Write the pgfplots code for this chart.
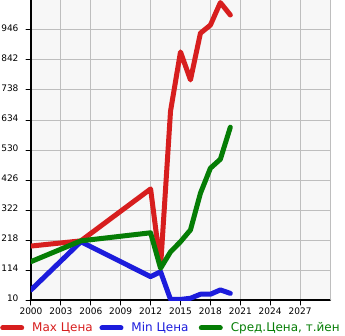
\documentclass[border=0pt]{standalone}
\usepackage{fontspec}
\setmainfont{DejaVu Sans}
\usepackage{pgfplots}
\pgfplotsset{compat=1.18}
\definecolor{cred}{RGB}{215,30,30}
\definecolor{cblue}{RGB}{28,28,220}
\definecolor{cgreen}{RGB}{5,125,5}
\definecolor{bgc}{RGB}{247,247,247}
\definecolor{gridc}{RGB}{190,190,190}
\begin{document}
\begin{tikzpicture}[x=1pt,y=1pt]
\useasboundingbox (-31,-35) rectangle (314,300);
\begin{axis}[
  at={(0,0)}, anchor=origin,
  scale only axis, width=299pt, height=300pt,
  xmin=2000, xmax=2030, ymin=10, ymax=1050,
  xtick={2000,2003,...,2027}, ytick={10,114,218,322,426,530,634,738,842,946},
  extra x ticks={2030}, extra x tick labels={},
  extra y ticks={1050}, extra y tick labels={},
  extra tick style={grid=major, major tick length=0pt},
  axis x line*=bottom, axis y line*=left,
  axis line style={line width=2.5pt, -},
  grid=major, grid style={gridc, line width=1pt},
  axis background/.style={fill=bgc},
  tick align=outside, major tick length=5pt,
  tick style={black, line width=1pt},
  xticklabel style={font=\fontsize{9}{10}\selectfont, /pgf/number format/1000 sep={}, yshift=1pt},
  yticklabel style={font=\fontsize{9}{10}\selectfont, xshift=-4pt, yshift=2pt},
  /pgf/number format/assume math mode=true,
  scaled ticks=false,
  line join=round, line cap=round,
  legend style={at={(-0.1037,-0.0933)}, anchor=west, draw=none, fill=none,
    font=\fontsize{12}{13}\selectfont, inner sep=0pt,
    /tikz/every even column/.append style={column sep=3pt},
    /tikz/every odd column/.append style={column sep=6pt}},
  legend columns=3,
  legend image code/.code={\draw[#1, line width=5pt, line cap=round] (2pt,0pt) -- (21pt,0pt);},
]
\addplot[cred, line width=5pt] coordinates {(2000,197)(2005,215)(2012,395)(2013,125)(2014,665)(2015,870)(2016,773)(2017,935)(2018,963)(2019,1041)(2020,998)};
\addlegendentry{\makebox[62.3pt][l]{\textcolor{cred}{Max Цена}}}
\addplot[cblue, line width=5pt] coordinates {(2000,45)(2005,212)(2012,91)(2013,108)(2014,12)(2015,12)(2016,16)(2017,30)(2018,30)(2019,45)(2020,33)};
\addlegendentry{\makebox[62.3pt][l]{\textcolor{cblue}{Min Цена}}}
\addplot[cgreen, line width=5pt] coordinates {(2000,143)(2005,215)(2012,243)(2013,120)(2014,177)(2015,212)(2016,253)(2017,380)(2018,467)(2019,498)(2020,609)};
\addlegendentry{\textcolor{cgreen}{Сред.Цена, т.йен}}
\end{axis}
\end{tikzpicture}
\end{document}
